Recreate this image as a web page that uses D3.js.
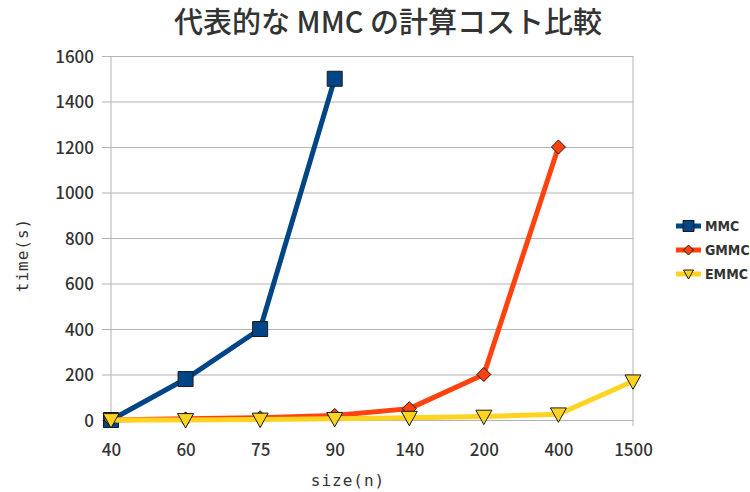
<!DOCTYPE html>
<html>
<head>
<meta charset="utf-8">
<script src="https://cdn.jsdelivr.net/npm/d3@7"></script>
<style>
  html, body { margin: 0; padding: 0; background: #fff; }
  svg { display: block; }
</style>
</head>
<body>
<svg id="chart" width="750" height="492"></svg>
<script>
// Problem sizes on the category axis
const sizes = ["40", "60", "75", "90", "140", "200", "400", "1500"];
// Computation time (seconds) per method; null where not measured
const mmc  = [0, 180, 400, 1500, null, null, null, null];
const gmmc = [0, 5, 10, 20, 50, 200, 1200, null];
const emmc = [0, 0, 2, 5, 10, 15, 25, 170];
const yTicks = [0, 200, 400, 600, 800, 1000, 1200, 1400, 1600];

const titleText = "代表的な MMC の計算コスト比較";
const xTitle = "size(n)";
const yTitle = "time(s)";

const series = [
  { name: "MMC",  values: mmc,  color: "#004586", symbol: "square" },
  { name: "GMMC", values: gmmc, color: "#ff420e", symbol: "diamond" },
  { name: "EMMC", values: emmc, color: "#ffd320", symbol: "triangle" }
];

const svg = d3.select("#chart");
const plotLeft = 111, plotRight = 633, plotTop = 56, plotBottom = 420;

const x = d3.scalePoint().domain(sizes).range([plotLeft, plotRight]);
const y = d3.scaleLinear().domain([0, 1600]).range([plotBottom, plotTop]);

const labelFont = "'Noto Sans CJK JP', 'DejaVu Sans', sans-serif";

// Title
svg.append("text")
  .attr("x", 388).attr("y", 33)
  .attr("text-anchor", "middle")
  .attr("font-family", labelFont)
  .attr("font-weight", 500)
  .attr("font-size", 29)
  .attr("fill", "#333")
  .text(titleText);

// Horizontal gridlines with tick stubs on the left
const yAxis = d3.axisLeft(y)
  .tickValues(yTicks)
  .tickFormat(d3.format("d"))
  .tickSize(plotRight - plotLeft + 9)
  .tickPadding(8);
const gy = svg.append("g")
  .attr("transform", `translate(${plotRight},0)`)
  .call(yAxis);
gy.select(".domain").remove();
gy.selectAll(".tick line").attr("stroke", "#b3b3b3").attr("stroke-width", 1);
gy.selectAll(".tick text")
  .attr("font-family", labelFont)
  .attr("font-weight", 500)
  .attr("font-size", 17)
  .attr("fill", "#333")
  .attr("dy", "0.36em");

// Plot frame: left axis line and right border
svg.append("line").attr("x1", plotLeft).attr("x2", plotLeft).attr("y1", plotTop).attr("y2", plotBottom + 6)
  .attr("stroke", "#b3b3b3");
svg.append("line").attr("x1", plotRight).attr("x2", plotRight).attr("y1", plotTop).attr("y2", plotBottom + 6)
  .attr("stroke", "#b3b3b3");

// Category axis labels
const xAxis = d3.axisBottom(x).tickSize(0).tickPadding(0);
const gx = svg.append("g").attr("transform", `translate(0,${plotBottom})`).call(xAxis);
gx.select(".domain").remove();
gx.selectAll(".tick text")
  .attr("font-family", labelFont)
  .attr("font-weight", 500)
  .attr("font-size", 17)
  .attr("fill", "#333")
  .attr("y", 31)
  .attr("dy", "0.32em");

// Axis titles
svg.append("text")
  .attr("x", 348).attr("y", 486)
  .attr("text-anchor", "middle")
  .attr("font-family", "'DejaVu Sans Mono', monospace")
  .attr("font-size", 16)
  .attr("letter-spacing", 1)
  .attr("fill", "#333")
  .text(xTitle);
svg.append("text")
  .attr("transform", "translate(28,255) rotate(-90)")
  .attr("text-anchor", "middle")
  .attr("font-family", "'DejaVu Sans Mono', monospace")
  .attr("font-size", 16)
  .attr("letter-spacing", 1)
  .attr("fill", "#333")
  .text(yTitle);

// Marker shapes
function markerPath(symbol, s) {
  if (symbol === "square") return `M${-s},${-s}H${s}V${s}H${-s}Z`;
  if (symbol === "diamond") return `M0,${-s}L${s},0L0,${s}L${-s},0Z`;
  return `M${-s},${-s * 0.8}H${s}L0,${s * 1.0}Z`;
}
const markerSize = { square: 7.5, diamond: 7, triangle: 8 };

const line = d3.line()
  .defined(d => d.v !== null)
  .x(d => x(d.k))
  .y(d => y(d.v));

// Series lines with their markers, MMC first so EMMC ends up on top
series.forEach(s => {
  const pts = sizes.map((k, i) => ({ k, v: s.values[i] }));
  const g = svg.append("g");
  g.append("path")
    .datum(pts)
    .attr("d", line)
    .attr("fill", "none")
    .attr("stroke", s.color)
    .attr("stroke-width", 5)
    .attr("stroke-linejoin", "round");
  g.selectAll("path.mk")
    .data(pts.filter(d => d.v !== null))
    .join("path")
    .attr("class", "mk")
    .attr("transform", d => `translate(${x(d.k)},${y(d.v)})`)
    .attr("d", markerPath(s.symbol, markerSize[s.symbol]))
    .attr("fill", s.color)
    .attr("stroke", "#1a1a1a")
    .attr("stroke-width", 1);
});

// Legend
const legend = svg.append("g");
series.forEach((s, i) => {
  const ly = 226 + i * 24;
  legend.append("line")
    .attr("x1", 676).attr("x2", 701).attr("y1", ly).attr("y2", ly)
    .attr("stroke", s.color).attr("stroke-width", 5);
  const ms = s.symbol === "square" ? 5.5 : 5;
  legend.append("path")
    .attr("transform", `translate(688.5,${ly})`)
    .attr("d", markerPath(s.symbol, ms))
    .attr("fill", s.color)
    .attr("stroke", "#1a1a1a")
    .attr("stroke-width", 1);
  legend.append("text")
    .attr("x", 705).attr("y", ly)
    .attr("dy", "0.36em")
    .attr("font-family", "'DejaVu Sans Condensed', 'DejaVu Sans', sans-serif")
    .attr("font-weight", "bold")
    .attr("font-size", 14)
    .attr("fill", "#333")
    .text(s.name);
});
</script>
</body>
</html>
